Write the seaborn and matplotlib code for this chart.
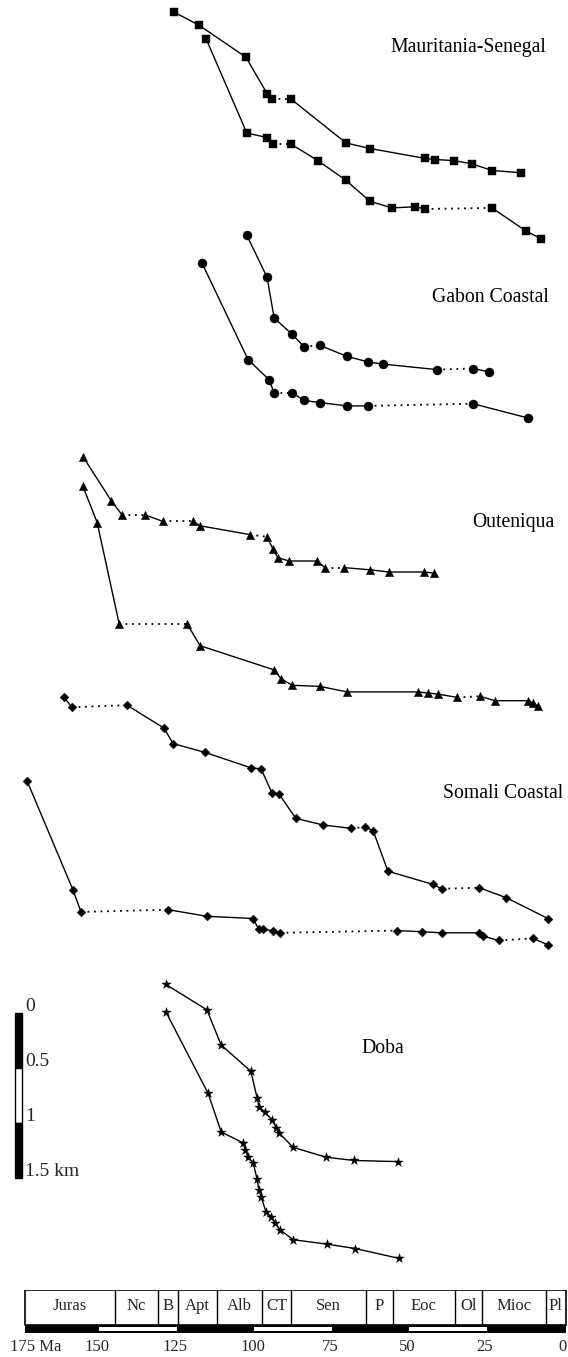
import matplotlib
matplotlib.use("Agg")
import matplotlib.pyplot as plt
import seaborn as sns
from matplotlib.patches import Rectangle

sns.set_theme(style="white")
plt.rcParams["font.family"] = ["Liberation Serif", "DejaVu Serif"]

# ---------------------------------------------
# Data: age (Ma) and subsidence (km, below first point) per curve
# ---------------------------------------------
mau_up_age = [125.8, 117.7, 102.6, 95.8, 94.2, 88.1, 70.3, 62.6, 44.8, 41.6, 35.5, 29.7, 23.2, 13.9]
mau_up_dep = [0, 0.12, 0.41, 0.74, 0.79, 0.79, 1.19, 1.24, 1.33, 1.34, 1.35, 1.38, 1.44, 1.46]
mau_lo_age = [115.5, 102.3, 95.8, 93.9, 88.1, 79.4, 70.3, 62.6, 55.5, 48.1, 44.8, 23.2, 12.3, 7.4]
mau_lo_dep = [0, 0.86, 0.90, 0.96, 0.96, 1.11, 1.29, 1.48, 1.54, 1.53, 1.55, 1.54, 1.75, 1.82]

gab_up_age = [102.3, 95.8, 93.5, 87.7, 83.9, 78.7, 70.0, 63.2, 58.4, 41.0, 29.4, 24.2]
gab_up_dep = [0, 0.38, 0.75, 0.90, 1.01, 1.00, 1.10, 1.15, 1.17, 1.22, 1.21, 1.24]
gab_lo_age = [116.8, 101.9, 95.2, 93.5, 87.7, 83.9, 78.7, 70.0, 63.2, 29.4, 11.6]
gab_lo_dep = [0, 0.88, 1.06, 1.18, 1.18, 1.25, 1.27, 1.30, 1.30, 1.28, 1.41]

out_up_age = [155.2, 146.1, 142.6, 135.2, 129.4, 119.7, 117.4, 101.3, 95.8, 93.9, 92.3, 88.7,
              79.7, 77.1, 71.0, 62.6, 56.5, 45.2, 41.9]
out_up_dep = [0, 0.40, 0.53, 0.53, 0.59, 0.59, 0.63, 0.71, 0.73, 0.84, 0.92, 0.95,
              0.95, 1.01, 1.01, 1.03, 1.05, 1.05, 1.06]
out_lo_age = [155.2, 150.6, 143.5, 121.6, 117.4, 93.5, 91.3, 87.7, 78.7, 70.0, 47.1, 43.9,
              40.6, 34.5, 27.1, 22.3, 11.6, 10.0, 8.4]
out_lo_dep = [0, 0.33, 1.25, 1.25, 1.45, 1.67, 1.75, 1.81, 1.82, 1.87, 1.87, 1.88,
              1.89, 1.92, 1.91, 1.95, 1.95, 1.97, 2.00]

som_up_age = [161.3, 158.7, 141.0, 129.0, 126.1, 115.8, 101.0, 97.7, 94.2, 91.9, 86.5, 77.7,
              68.7, 64.2, 61.6, 56.8, 42.3, 39.4, 27.4, 18.7, 5.2]
som_up_dep = [0, 0.09, 0.07, 0.28, 0.42, 0.50, 0.64, 0.65, 0.87, 0.88, 1.10, 1.16,
              1.19, 1.18, 1.21, 1.58, 1.70, 1.74, 1.73, 1.82, 2.01]
som_lo_age = [173.2, 158.4, 155.8, 127.7, 115.2, 100.3, 98.4, 97.1, 93.9, 91.6, 53.9, 45.8,
              39.4, 27.4, 26.1, 21.0, 10.0, 5.2]
som_lo_dep = [0, 0.99, 1.19, 1.17, 1.23, 1.25, 1.35, 1.35, 1.36, 1.38, 1.36, 1.37,
              1.38, 1.38, 1.41, 1.45, 1.43, 1.49]

doba_up_age = [128.4, 115.2, 110.6, 101.0, 99.0, 98.4, 96.5, 94.2, 92.9, 91.9, 87.4, 76.8, 67.7, 53.5]
doba_up_dep = [0, 0.23, 0.55, 0.79, 1.03, 1.11, 1.16, 1.23, 1.30, 1.35, 1.48, 1.57, 1.60, 1.61]
doba_lo_age = [128.4, 114.8, 110.6, 103.5, 102.9, 101.9, 100.3, 99.0, 98.4, 97.7, 96.1, 94.5,
               93.2, 91.6, 87.4, 76.5, 67.4, 53.2]
doba_lo_dep = [0, 0.74, 1.09, 1.19, 1.25, 1.32, 1.37, 1.52, 1.62, 1.68, 1.82, 1.86,
               1.92, 1.98, 2.07, 2.11, 2.15, 2.24]

# curve: (ages, depths, vertical offset in km, indices of dotted gaps, marker, marker size)
curves = [
    (mau_up_age, mau_up_dep, 0.11, [4], "s", 6),
    (mau_lo_age, mau_lo_dep, 0.35, [3, 10], "s", 6),
    (gab_up_age, gab_up_dep, 2.14, [4, 9], "o", 6.5),
    (gab_lo_age, gab_lo_dep, 2.39, [3, 8], "o", 6.5),
    (out_up_age, out_up_dep, 4.15, [2, 4, 7, 13], "^", 6),
    (out_lo_age, out_lo_dep, 4.42, [2, 13], "^", 6),
    (som_up_age, som_up_dep, 6.34, [1, 12, 17], "D", 4.5),
    (som_lo_age, som_lo_dep, 7.10, [2, 9, 15], "D", 4.5),
    (doba_up_age, doba_up_dep, 8.95, [], "*", 7),
    (doba_lo_age, doba_lo_dep, 9.20, [], "*", 7),
]

basin_names = ["Mauritania-Senegal", "Gabon Coastal", "Outeniqua", "Somali Coastal", "Doba"]
basin_label_age = [56.1, 42.6, 29.7, 39.0, 65.5]
basin_label_dep = [0.43, 2.70, 4.75, 7.21, 9.53]

scale_ticks = [0, 0.5, 1, 1.5]
scale_labels = ["0", "0.5", "1", "1.5 km"]

periods = ["Juras", "Nc", "B", "Apt", "Alb", "CT", "Sen", "P", "Eoc", "Ol", "Mioc", "Pl"]
period_bounds = [174, 145, 131, 124.5, 112, 97.5, 88, 64, 55.2, 35.2, 26.5, 5.8, -0.5]
age_ticks = [150, 125, 100, 75, 50, 25, 0]

# ---------------------------------------------
# Figure
# ---------------------------------------------
W, H = 568, 1357
fig = plt.figure(figsize=(W / 100, H / 100), dpi=100)
fig.patch.set_facecolor("white")

px_per_ma = 3.1
x0_px = 564            # pixel of 0 Ma
px_per_km = 110
top_h = 1280           # pixel height of main panel

ax = fig.add_axes([0, 1 - top_h / H, 1, top_h / H])
ax.set_xlim(x0_px / px_per_ma, (x0_px - W) / px_per_ma)
ax.set_ylim(top_h / px_per_km, 0)
ax.axis("off")

for ages, deps, off, gaps, mk, ms in curves:
    ys = [d + off for d in deps]
    cuts = [0] + [g + 1 for g in gaps] + [len(ages)]
    for a, b in zip(cuts[:-1], cuts[1:]):
        if b - a > 1:
            sns.lineplot(x=ages[a:b], y=ys[a:b], sort=False, estimator=None,
                         color="black", lw=1.0, ax=ax)
    for g in gaps:
        ax.plot(ages[g:g + 2], ys[g:g + 2], color="black", lw=1.3,
                linestyle=(0, (1, 2.6)))
    sns.scatterplot(x=ages, y=ys, marker=mk, s=ms ** 2, color="black",
                    edgecolor="black", linewidth=0.3, ax=ax, zorder=3)

for name, a, d in zip(basin_names, basin_label_age, basin_label_dep):
    ax.text(a, d, name, fontsize=14.2, ha="left", va="center", color="black")

# depth scale bar
bar_age = 176.1
bar_top = 9.21
for i in range(3):
    ax.bar(bar_age, 0.5, bottom=bar_top + 0.5 * i, width=2.3,
           color="black" if i != 1 else "white", edgecolor="black", linewidth=1.0)
for t, lab in zip(scale_ticks, scale_labels):
    ax.text(173.9, bar_top + t - 0.06, lab, fontsize=14, ha="left", va="center")

# ---------------------------------------------
# Time scale
# ---------------------------------------------
ax2 = fig.add_axes([0, 1 - 1333 / H, 1, 43 / H])
ax2.set_xlim(ax.get_xlim())
ax2.set_ylim(43, 0)
ax2.axis("off")

ax2.add_patch(Rectangle((period_bounds[0], 0), period_bounds[-1] - period_bounds[0], 35,
                        facecolor="white", edgecolor="black", lw=1.2))
for b in period_bounds[1:-1]:
    ax2.plot([b, b], [0, 35], color="black", lw=1.0)
for name, a, b in zip(periods, period_bounds[:-1], period_bounds[1:]):
    ax2.text((a + b) / 2, 16, name, fontsize=12, ha="center", va="center")

ax2.add_patch(Rectangle((period_bounds[0], 35), period_bounds[-1] - period_bounds[0], 8,
                        facecolor="black", edgecolor="none"))
for a in [150, 100, 50]:
    ax2.add_patch(Rectangle((a, 37), -25, 4, facecolor="white", edgecolor="none"))

for t in age_ticks:
    ax2.text(t + 0.5 if t else 0.5, 57, str(t), fontsize=12, ha="center", va="center",
             clip_on=False)
ax2.text(178.8, 57, "175 Ma", fontsize=12, ha="left", va="center", clip_on=False)

fig.savefig("out.png", dpi=100, facecolor="white")
